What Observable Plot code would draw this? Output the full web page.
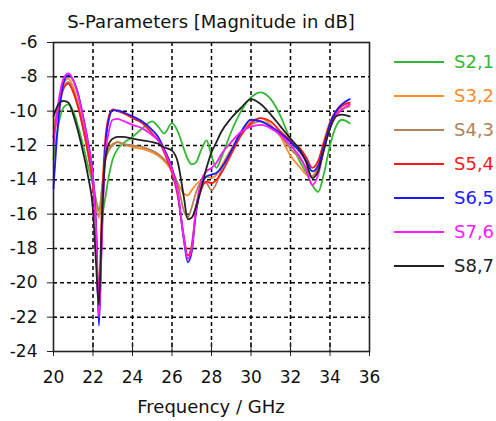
<!DOCTYPE html>
<html>
<head>
<meta charset="utf-8">
<script src="https://cdn.jsdelivr.net/npm/d3@7"></script>
<script src="https://cdn.jsdelivr.net/npm/@observablehq/plot@0.6"></script>
<style>
  html, body { margin: 0; padding: 0; background: #fff; }
  #wrap { position: relative; width: 496px; height: 421px; font-family: "DejaVu Sans", sans-serif; color: #111; }
  #wrap svg { position: absolute; left: 0; top: 0; }
  .title { position: absolute; left: 0; width: 422px; top: 13px; text-align: center; font-size: 18px; line-height: 18px; white-space: nowrap; }
  .xlabel { position: absolute; left: 0; width: 422px; top: 398px; text-align: center; font-size: 18px; line-height: 18px; white-space: nowrap; }
  .leg { position: absolute; left: 394px; height: 18px; font-size: 18px; line-height: 18px; white-space: nowrap; }
  .leg span.sw { position: absolute; left: 0; top: 8px; width: 50px; height: 0; border-top: 2px solid; }
  .leg span.tx { position: absolute; left: 60px; top: 0; }
</style>
</head>
<body>
<div id="wrap"></div>
<script>
const freq = [20, 20.25, 20.5, 20.75, 21, 21.25, 21.5, 21.75, 22, 22.15,
  22.3, 22.45, 22.6, 22.8, 23, 23.25, 23.5, 24, 24.5, 25,
  25.3, 25.6, 26, 26.3, 26.6, 26.8, 27, 27.2, 27.5, 27.75,
  28, 28.25, 28.5, 29, 29.5, 30, 30.5, 31, 31.5, 32,
  32.5, 32.8, 33.1, 33.4, 33.7, 34, 34.3, 34.6, 35];

const s21 = [-12.8,-10.8,-9.8,-9.6,-10.0,-10.9,-12.0,-13.2,-14.3,-15.2,
  -15.8,-16.0,-15.2,-13.8,-12.8,-12.2,-11.9,-11.5,-11.0,-10.6,
  -10.9,-11.3,-10.7,-11.2,-12.2,-12.8,-13.1,-13.0,-12.2,-11.7,
  -12.6,-13.3,-12.7,-11.2,-10.0,-9.2,-8.9,-9.3,-10.3,-11.7,
  -13.0,-13.6,-14.3,-14.7,-13.6,-12.0,-10.9,-10.5,-10.7];
const s32 = [-11.0,-9.5,-8.4,-8.1,-8.6,-9.6,-11.0,-12.5,-14.2,-15.5,
  -16.2,-14.5,-13.0,-12.2,-11.9,-11.8,-11.9,-12.1,-12.2,-12.4,
  -12.6,-12.9,-13.5,-14.2,-14.8,-14.9,-14.6,-14.3,-14.0,-13.8,
  -13.9,-13.7,-13.2,-12.2,-11.2,-10.6,-10.4,-10.8,-11.5,-12.6,
  -13.3,-13.7,-13.8,-13.0,-11.7,-10.6,-10.0,-9.6,-9.5];
const s43 = [-11.5,-10.0,-8.7,-8.3,-8.8,-9.7,-11.0,-12.5,-14.0,-15.2,
  -15.8,-14.6,-13.0,-12.3,-12.0,-11.8,-11.9,-12.0,-12.1,-12.3,
  -12.5,-12.8,-13.4,-14.3,-15.8,-16.2,-15.6,-14.8,-14.1,-14.2,
  -14.6,-14.2,-13.4,-12.4,-11.3,-10.8,-10.6,-10.9,-11.4,-12.2,
  -12.8,-13.3,-13.8,-13.3,-12.0,-10.9,-10.2,-9.9,-9.7];
const s54 = [-11.5,-9.8,-8.7,-8.4,-8.9,-9.8,-11.0,-12.4,-14.4,-16.8,
  -20.8,-15.5,-12.0,-10.3,-9.9,-10.0,-10.1,-10.4,-10.7,-11.3,
  -11.7,-12.4,-13.6,-15.0,-17.3,-18.4,-17.8,-16.0,-14.5,-14.1,
  -14.2,-14.0,-13.6,-12.5,-11.4,-10.7,-10.4,-10.6,-11.2,-11.7,
  -12.2,-12.7,-13.3,-12.9,-11.8,-10.8,-10.1,-9.7,-9.5];
const s65 = [-14.5,-10.5,-8.4,-7.9,-8.2,-9.0,-10.3,-11.8,-13.8,-16.5,
  -22.5,-17.0,-12.5,-10.5,-9.95,-9.95,-10.05,-10.3,-10.6,-11.1,
  -11.5,-12.2,-13.3,-14.8,-17.5,-18.8,-18.2,-16.0,-14.3,-13.8,
  -13.7,-13.6,-13.3,-12.3,-11.2,-10.5,-10.6,-10.9,-11.3,-11.8,
  -12.4,-12.9,-13.5,-13.2,-12.0,-10.7,-10.0,-9.6,-9.3];
const s76 = [-12.0,-9.5,-8.1,-7.8,-8.2,-9.1,-10.4,-11.9,-13.9,-16.8,
  -22.0,-17.5,-13.0,-11.2,-10.5,-10.45,-10.55,-10.8,-11.0,-11.4,
  -11.7,-12.3,-13.4,-14.8,-17.4,-18.6,-18.0,-15.8,-14.0,-13.5,
  -13.3,-13.0,-12.5,-11.8,-11.2,-10.9,-10.8,-11.0,-11.4,-12.0,
  -12.7,-13.4,-14.3,-13.7,-12.2,-11.0,-10.3,-9.9,-9.6];
const s87 = [-10.3,-9.6,-9.4,-9.5,-10.2,-11.2,-12.4,-13.8,-15.8,-18.8,
  -21.3,-16.5,-13.0,-11.9,-11.6,-11.5,-11.5,-11.6,-11.7,-11.8,
  -11.9,-12.1,-12.3,-13.0,-15.0,-16.3,-16.2,-15.6,-14.4,-13.3,
  -12.4,-11.8,-11.2,-10.4,-9.8,-9.3,-9.6,-10.2,-10.9,-11.6,
  -12.3,-13.0,-13.9,-13.5,-12.2,-11.0,-10.3,-10.2,-10.3];

const seriesNames = ["S2,1", "S3,2", "S4,3", "S5,4", "S6,5", "S7,6", "S8,7"];
const seriesValues = [s21, s32, s43, s54, s65, s76, s87];
const seriesColors = ["#33b833", "#ff8c2a", "#b08358", "#ff1a1a", "#1a1aff", "#ff1aff", "#222222"];

const xTicks = [20, 22, 24, 26, 28, 30, 32, 34, 36];
const yTicks = [-6, -8, -10, -12, -14, -16, -18, -20, -22, -24];
const xGrid = [22, 24, 26, 28, 30, 32, 34];
const yGrid = [-8, -10, -12, -14, -16, -18, -20, -22];

const titleText = "S-Parameters [Magnitude in dB]";
const xLabelText = "Frequency / GHz";

const rows = seriesNames.flatMap((name, i) =>
  freq.map((f, j) => ({ f, v: seriesValues[i][j], name })));

const gridStyle = { stroke: "#000", strokeOpacity: 1, strokeWidth: 1.5, strokeDasharray: "4,3" };

const chart = Plot.plot({
  width: 496,
  height: 421,
  marginLeft: 53,
  marginRight: 127,
  marginTop: 42,
  marginBottom: 70,
  style: { fontFamily: "DejaVu Sans, sans-serif", fontSize: "17px", color: "#111", background: "transparent" },
  x: { domain: [20, 36] },
  y: { domain: [-24, -6] },
  color: { domain: seriesNames, range: seriesColors },
  marks: [
    Plot.gridX(xGrid, gridStyle),
    Plot.gridY(yGrid, gridStyle),
    Plot.line(rows, { x: "f", y: "v", z: "name", stroke: "name", strokeWidth: 1.8, curve: "monotone-x" }),
    Plot.frame({ stroke: "#222", strokeWidth: 1.6 }),
    Plot.axisX(xTicks, { tickSize: 14, dy: -9, tickPadding: 14, label: null, tickFormat: d => String(d), fontSize: 17, stroke: "#222" }),
    Plot.axisY(yTicks, { tickSize: 9, dx: 3, tickPadding: 10, label: null, tickFormat: d => String(d), fontSize: 17, stroke: "#222" })
  ]
});

const wrap = document.getElementById("wrap");
wrap.appendChild(chart);

const t = document.createElement("div");
t.className = "title";
t.textContent = titleText;
wrap.appendChild(t);

const xl = document.createElement("div");
xl.className = "xlabel";
xl.textContent = xLabelText;
wrap.appendChild(xl);

seriesNames.forEach((name, i) => {
  const d = document.createElement("div");
  d.className = "leg";
  d.style.top = (62 + i * 34 - 9) + "px";
  const sw = document.createElement("span");
  sw.className = "sw";
  sw.style.borderColor = seriesColors[i];
  const tx = document.createElement("span");
  tx.className = "tx";
  tx.style.color = seriesColors[i];
  tx.textContent = name;
  d.appendChild(sw);
  d.appendChild(tx);
  wrap.appendChild(d);
});
</script>
</body>
</html>
